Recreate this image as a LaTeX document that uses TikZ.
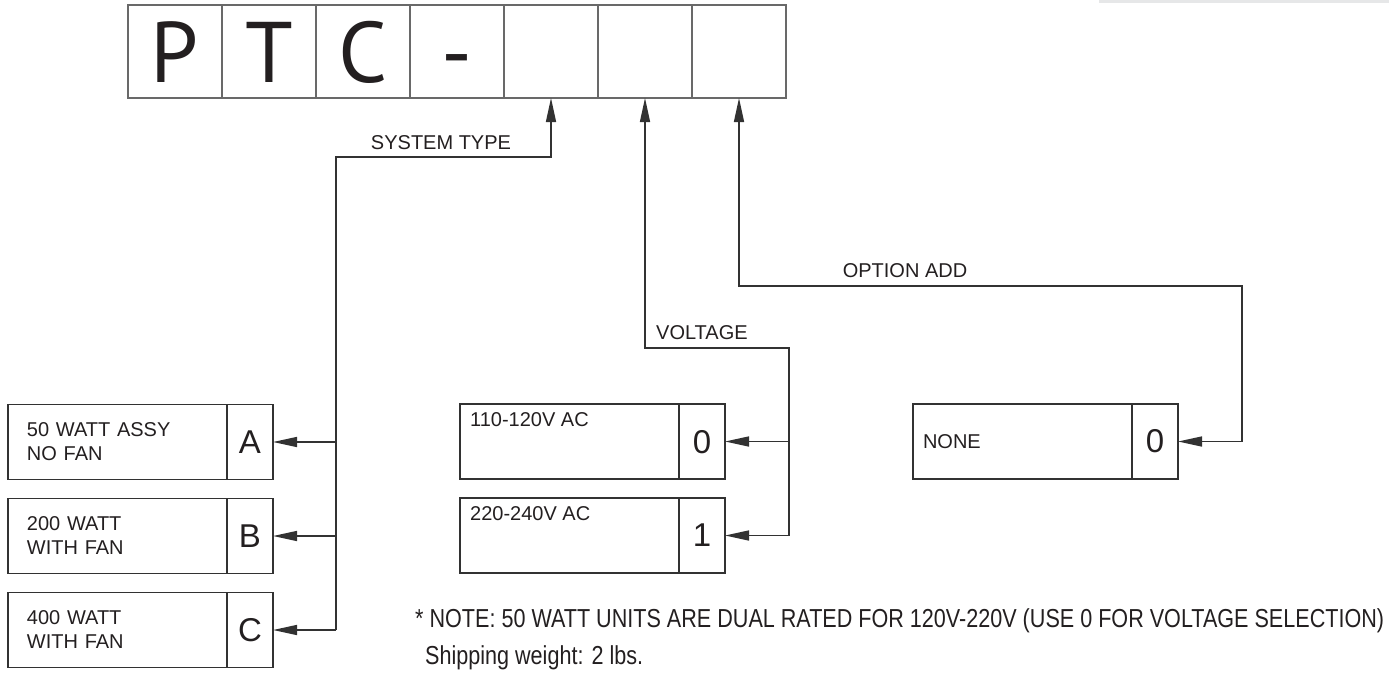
\documentclass[tikz,border=0pt]{standalone}
\usepackage{fontspec}
\setmainfont{Liberation Sans}
\newfontfamily\ptcfont{PT Sans}
\newfontfamily\notefont[FakeStretch=0.83]{Liberation Sans}
\usetikzlibrary{arrows.meta,positioning}

\begin{document}
\begin{tikzpicture}[
    x=1pt, y=-1pt,
    font=\fontsize{20}{24}\selectfont,
    >=Triangle,
]

\definecolor{lineCol}{RGB}{50, 50, 50}
\definecolor{cellCol}{RGB}{105, 105, 105}
\definecolor{textCol}{RGB}{35, 31, 32}
\definecolor{barCol}{RGB}{230, 231, 232}

\tikzset{
    cell_node/.style = {rectangle, minimum width=94pt, minimum height=93pt, inner sep=0pt, outer sep=0pt,
                        text height=61pt, text depth=0pt, draw=cellCol, line width=1.5pt, text=textCol,
                        font=\ptcfont\fontsize{86}{86}\selectfont},
    desc_node/.style = {rectangle, minimum width=219pt, minimum height=75pt, inner ysep=0pt, outer sep=0pt,
                        inner xsep=19pt, text width=181pt, align=left, draw=lineCol, line width=1.3pt, text=textCol},
    code_node/.style = {rectangle, minimum width=46pt, minimum height=75pt, inner sep=0pt, outer sep=0pt,
                        draw=lineCol, line width=1.3pt, text=textCol, font=\fontsize{33}{33}\selectfont},
    top_text/.style  = {anchor=north west, inner xsep=10pt, inner ysep=8pt, text=textCol},
    arrow/.style     = {draw=lineCol, line width=1.5pt, -{Triangle[length=24pt, width=10pt]}},
    tag_node/.style  = {inner sep=2pt, text=textCol},
    note_node/.style = {anchor=west, inner sep=0pt, text=textCol, font=\notefont\fontsize{26}{30}\selectfont}
}

\useasboundingbox (0, 0) rectangle (1389, 678);
\fill[barCol] (1099, 0) rectangle (1389, 3);

% =========== PART NUMBER CELLS ===========
\foreach \i/\ch in {1/P, 2/T, 3/C, 4/-, 5/, 6/, 7/} {
    \node[cell_node] (c\i) at (81 + 94*\i, 51.5) {\ch};
}

% =========== SYSTEM TYPE ===========
\node[desc_node] (desc_a) at (117.5, 442) {50 WATT ASSY\\NO FAN};
\node[code_node, right=0pt of desc_a] (code_a) {A};
\node[desc_node] (desc_b) at (117.5, 536) {200 WATT\\WITH FAN};
\node[code_node, right=0pt of desc_b] (code_b) {B};
\node[desc_node] (desc_c) at (117.5, 630) {400 WATT\\WITH FAN};
\node[code_node, right=0pt of desc_c] (code_c) {C};

\coordinate (sys_bend) at (336, 157);
\coordinate (sys_foot) at (336, 630);
\node[tag_node] (sys_tag) at (441, 143) {SYSTEM TYPE};

\draw[arrow] (sys_foot) -- (sys_bend) -| (c5.south);
\foreach \k in {a, b, c} {
    \draw[arrow] (sys_foot |- code_\k.east) -- (code_\k.east);
}

% =========== VOLTAGE ===========
\node[desc_node, label={[top_text]north west:110-120V AC}] (desc_v0) at (569.5, 441.5) {};
\node[code_node, right=0pt of desc_v0, text depth=-4pt] (code_v0) {0};
\node[desc_node, label={[top_text]north west:220-240V AC}] (desc_v1) at (569.5, 535.5) {};
\node[code_node, right=0pt of desc_v1, text depth=-4pt] (code_v1) {1};

\coordinate (volt_top) at (789, 348);
\coordinate (volt_foot) at (789, 535.5);
\node[tag_node, anchor=west] (volt_tag) at (654, 333) {VOLTAGE};

\draw[arrow] (volt_foot) -- (volt_top) -| (c6.south);
\draw[arrow] (volt_foot |- code_v0.east) -- (code_v0.east);
\draw[arrow] (volt_foot) -- (code_v1.east);

% =========== OPTION ADD ===========
\node[desc_node, inner xsep=10pt, text width=199pt] (desc_none) at (1022.5, 441.5) {NONE};
\node[code_node, right=0pt of desc_none] (code_none) {0};

\coordinate (opt_top) at (1242, 286);
\coordinate (opt_foot) at (1242, 441.5);
\node[tag_node] (opt_tag) at (905, 271) {OPTION ADD};

\draw[arrow] (opt_foot) -- (opt_top) -| (c7.south);
\draw[arrow] (opt_foot) -- (code_none.east);

% =========== NOTES ===========
\node[note_node] (note) at (415, 621) {* NOTE: 50 WATT UNITS ARE DUAL RATED FOR 120V-220V (USE 0 FOR VOLTAGE SELECTION)};
\node[note_node] (weight) at (425, 658) {Shipping weight: 2 lbs.};

\end{tikzpicture}
\end{document}
